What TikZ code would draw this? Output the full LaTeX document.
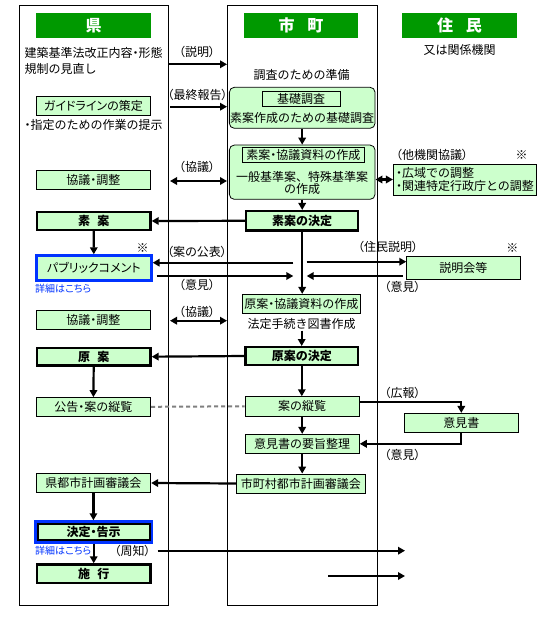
\documentclass[tikz,border=0pt]{standalone}
\usepackage{fontspec}
\setmainfont{Noto Sans CJK JP}
\newfontfamily\pfont{Noto Sans CJK JP}[RawFeature=+palt]
\usetikzlibrary{arrows.meta,fit}
\definecolor{hgreen}{RGB}{0,153,0}
\definecolor{lgreen}{RGB}{204,255,204}
\definecolor{lblue}{RGB}{0,51,255}
\definecolor{dgray}{RGB}{128,128,128}
\newcommand\myfs{\fontsize{12}{12.7}\selectfont}
\newcommand\pd{{\pfont ・}}
\tikzset{
  hdr/.style={fill=hgreen, text=white, font=\fontsize{16}{16}\selectfont\bfseries, minimum height=25pt, minimum width=115pt, inner sep=0pt},
  box/.style={draw, fill=lgreen, line width=0.8pt, inner sep=0pt, font=\myfs, minimum height=19pt},
  tbox/.style={box, line width=2.3pt, font=\myfs\bfseries},
  bbox/.style={box, draw=lblue, line width=3pt},
  rbox/.style={box, rounded corners=5pt},
  ibox/.style={draw, line width=0.8pt, inner sep=0pt, font=\myfs},
  lbl/.style={font=\myfs, inner sep=0pt},
  plbl/.style={font=\myfs\pfont, inner sep=0pt},
  note/.style={font=\fontsize{10}{10}\selectfont\pfont, text=lblue, anchor=west, inner sep=0pt},
  arr/.style={line width=2.2pt, -{Triangle[length=7pt,width=7.5pt]}},
  darr/.style={line width=2.2pt, {Triangle[length=7pt,width=7.5pt]}-{Triangle[length=7pt,width=7.5pt]}},
  gdash/.style={draw=dgray, line width=2pt, dash pattern=on 4pt off 3pt}
}
\begin{document}
\begin{tikzpicture}[x=1pt,y=-1pt]
\useasboundingbox (0,0) rectangle (550,620);
\fill[white] (0,0) rectangle (550,620);
% frames
\draw[line width=1pt] (19,6) rectangle (168,605);
\draw[line width=1pt] (227,6) rectangle (377,605);
% headers
\node[hdr] (hk) at (93.5,25.5) {県};
\node[hdr, minimum width=114pt] (hs) at (301,25.5) {市\hspace{0.8em}町};
\node[hdr] (hj) at (459.5,25.5) {住\hspace{0.8em}民};
\node[lbl] (kankei) at (459.5,50) {又は関係機関};
% left column
\node[lbl, anchor=west] (t1) at (24.5,53) {建築基準法改正内容\pd 形態};
\node[lbl, anchor=west] (t2) at (24.5,68.5) {規制の見直し};
\node[box, font=\myfs\pfont, minimum width=114.7pt] (guide) at (93.4,105.5) {ガイドラインの策定};
\node[lbl, anchor=west] (t3) at (24.5,125) {\pd 指定のための作業の提示};
\node[box, minimum width=114.7pt] (kyo1) at (93.4,179.7) {協議\pd 調整};
\node[tbox, minimum width=113.7pt, minimum height=17.7pt] (soan) at (93.7,221) {素\hspace{0.6em}案};
\node[bbox, font=\myfs\pfont, minimum width=114.7pt, minimum height=24.4pt] (pub) at (93.8,268) {パブリックコメント};
\node[note] (d1) at (35,289) {詳細はこちら};
\node[box, minimum width=114.7pt] (kyo2) at (93.4,320) {協議\pd 調整};
\node[tbox, minimum width=113.7pt, minimum height=17.7pt] (gen) at (93.7,356.7) {原\hspace{0.6em}案};
\node[box, minimum width=114.7pt, minimum height=18.5pt] (kok) at (93.4,406.8) {公告\pd 案の縦覧};
\node[box, minimum width=114.7pt, minimum height=19.4pt] (ken) at (93.4,483) {県都市計画審議会};
\node[tbox, line width=2pt, minimum width=112pt, minimum height=16.5pt] (ket) at (93.7,532) {決定{\pfont\bfseries ・}告示};
\node[draw=lblue, line width=2.5pt, fit=(ket), inner sep=1.25pt] (ketb) {};
\node[note] (d2) at (35,551) {詳細はこちら};
\node[tbox, minimum width=113.7pt, minimum height=18.7pt] (shi) at (93.7,573.8) {施\hspace{0.6em}行};
% middle column
\node[lbl] (prep) at (301.7,75) {調査のための準備};
\node[rbox, minimum width=145.7pt, minimum height=41pt] (rb1) at (302.2,107.8) {};
\node[ibox, minimum width=77.7pt, minimum height=15.7pt] (kiso) at (301.2,98.8) {基礎調査};
\node[lbl] (kisot) at (302.2,118.3) {素案作成のための基礎調査};
\node[rbox, minimum width=145.7pt, minimum height=54.3pt] (rb2) at (302.2,172.2) {};
\node[ibox, minimum width=121.3pt, minimum height=15.4pt] (sosaku) at (303.3,155) {素案\pd 協議資料の作成};
\node[lbl] (ippan1) at (302.2,176.7) {一般基準案、特殊基準案};
\node[lbl] (ippan2) at (302.2,189.3) {の作成};
\node[tbox, minimum width=112pt, minimum height=19.4pt] (sk) at (302.2,220.8) {素案の決定};
\node[box, minimum width=117.3pt, minimum height=19pt] (gs) at (301.3,303.8) {原案\pd 協議資料の作成};
\node[lbl] (hotei) at (301.7,324) {法定手続き図書作成};
\node[tbox, minimum width=112.7pt, minimum height=17.7pt] (gk) at (301.8,356) {原案の決定};
\node[box, minimum width=114.3pt, minimum height=19.3pt] (jur) at (302.2,406.3) {案の縦覧};
\node[box, minimum width=114.3pt, minimum height=19pt] (yos) at (302.2,443.8) {意見書の要旨整理};
\node[box, minimum width=128.3pt, minimum height=19pt] (scs) at (300.8,483.5) {市町村都市計画審議会};
% right column
\node[box, minimum width=143.4pt, minimum height=31pt, align=left] (tk) at (465,179.5) {\pd 広域での調整\\\pd 関連特定行政庁との調整};
\node[box, minimum width=113.3pt, minimum height=22.3pt] (sm) at (463.3,267.8) {説明会等};
\node[box, minimum width=114pt, minimum height=19pt] (iks) at (461.3,422.8) {意見書};
% labels
\node[plbl] (l1) at (197,52) {（説明）};
\node[plbl] (l2) at (197.5,95) {（最終報告）};
\node[plbl] (l3) at (197,166.7) {（協議）};
\node[plbl] (l4) at (432,155) {（他機関協議）};
\node[lbl] (k1) at (521.7,155) {※};
\node[lbl] (k2) at (142.7,248.3) {※};
\node[plbl] (l5) at (197,251.7) {（案の公表）};
\node[plbl] (l6) at (197,285) {（意見）};
\node[plbl] (l7) at (388,247.3) {（住民説明）};
\node[lbl] (k3) at (512.3,248.3) {※};
\node[plbl] (l8) at (402.5,286.7) {（意見）};
\node[plbl] (l9) at (197,311.5) {（協議）};
\node[plbl] (l10) at (402.5,393.3) {（広報）};
\node[plbl] (l11) at (402.5,454.5) {（意見）};
\node[plbl] (l12) at (132.5,551) {（周知）};
% free ends
\coordinate (c1a) at (168,64.3); \coordinate (c1b) at (227,64.3);
\coordinate (c2a) at (170,106.7); \coordinate (c2b) at (227,106.7);
\coordinate (c3a) at (170,181); \coordinate (c3b) at (227,181);
\coordinate (c4) at (293.3,262.7);
\coordinate (c5a) at (156.7,276); \coordinate (c5b) at (293.3,276);
\coordinate (c6) at (306.7,261.7);
\coordinate (c7a) at (402.7,276); \coordinate (c7b) at (306.7,276);
\coordinate (c8) at (301.7,330.7);
\coordinate (c11a) at (170,320.7); \coordinate (c11b) at (227,320.7);
\coordinate (c9a) at (157.7,550.7); \coordinate (c9b) at (405,550.7);
\coordinate (c10a) at (328.3,576); \coordinate (c10b) at (405,576);
% connectors
\draw[arr] (c1a) -- (c1b);
\draw[arr] (c2a) -- (c2b);
\draw[darr] (c3a) -- (c3b);
\draw[darr] (rb2.east |- tk.west) -- (tk.west);
\draw[arr] (rb1.south) -- (rb2.north);
\draw[arr] (rb2.south) -- (sk.north);
\draw[arr] (sk.west) -- (soan.east);
\draw[arr] (soan.south) -- (pub.north);
\draw[arr] (sk.south) -- (sk.south |- gs.north);
\draw[arr] (c4) -- (c4 -| pub.east);
\draw[arr] (c5a) -- (c5b);
\draw[arr] (c6) -- (c6 -| sm.west);
\draw[arr] (c7a) -- (c7b);
\draw[arr] (c8) -- (c8 |- gk.north);
\draw[darr] (c11a) -- (c11b);
\draw[arr] (gk.west) -- (gen.east);
\draw[arr] (gen.south) -- (kok.north);
\draw[gdash] (kok.east) -- (jur.west);
\draw[arr] (gk.south) -- (gk.south |- jur.north);
\draw[arr] ([yshift=4.6pt]jur.east) -| (iks.north);
\draw[arr] (iks.south) |- (yos.east);
\draw[arr] (jur.south) -- (yos.north);
\draw[arr] (yos.south) -- (yos.south |- scs.north);
\draw[arr] (scs.west) -- (ken.east);
\draw[arr] (ken.south) -- (ken.south |- ketb.north);
\draw[arr] (ketb.south) -- (ketb.south |- shi.north);
\draw[arr] (c9a) -- (c9b);
\draw[arr] (c10a) -- (c10b);
\end{tikzpicture}
\end{document}
